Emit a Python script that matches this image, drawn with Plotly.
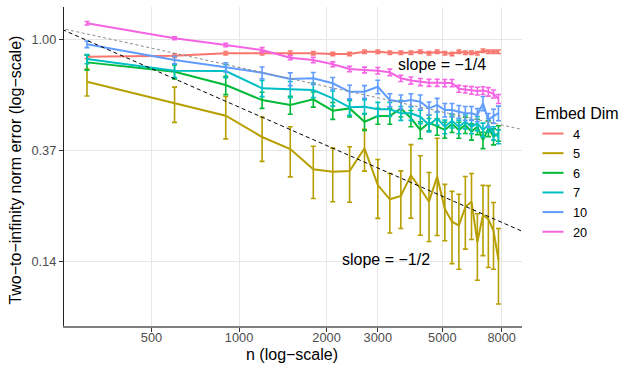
import numpy as np
import plotly.graph_objects as go

# ---------------- data ----------------
n_values = [300, 600, 900, 1200, 1500, 1800, 2100, 2400, 2700, 3000, 3300, 3600, 3900,
            4200, 4500, 4800, 5100, 5400, 5700, 6000, 6300, 6600, 6900, 7200, 7500, 7800]

embed_dims = ["4", "5", "6", "7", "10", "20"]

err_d4 = [0.858, 0.866, 0.885, 0.885, 0.889, 0.885, 0.879, 0.879, 0.897, 0.897, 0.889, 0.889, 0.889,
          0.897, 0.885, 0.897, 0.885, 0.879, 0.897, 0.889, 0.889, 0.885, 0.906, 0.897, 0.897, 0.897]
sd_d4 = [0.014] * 26

err_d5 = [0.6845, 0.563, 0.5036, 0.4156, 0.3729, 0.3105, 0.3038, 0.3057, 0.3753, 0.2694, 0.2368, 0.244, 0.2938,
          0.2611, 0.2318, 0.2909, 0.217, 0.1935, 0.187, 0.221, 0.2318, 0.161, 0.2055, 0.198, 0.178, 0.137]
sd_d5 = [0.083, 0.089, 0.095, 0.082, 0.083, 0.072, 0.072, 0.075, 0.07, 0.07, 0.062, 0.062, 0.094,
         0.09, 0.07, 0.12, 0.054, 0.061, 0.061, 0.07, 0.067, 0.047, 0.063, 0.07, 0.052, 0.045]

err_d6 = [0.815, 0.749, 0.664, 0.580, 0.555, 0.584, 0.527, 0.538, 0.477, 0.502, 0.502, 0.538, 0.492,
          0.443, 0.473, 0.456, 0.443, 0.467, 0.443, 0.463, 0.436, 0.456, 0.404, 0.449, 0.417, 0.430]
sd_d6 = [0.055, 0.047, 0.055, 0.042, 0.045, 0.04, 0.04, 0.04, 0.036, 0.036, 0.036, 0.04, 0.036,
         0.034, 0.034, 0.034, 0.032, 0.034, 0.032, 0.034, 0.032, 0.032, 0.03, 0.032, 0.03, 0.03]

err_d7 = [0.840, 0.756, 0.754, 0.645, 0.639, 0.635, 0.589, 0.543, 0.546, 0.534, 0.534, 0.515, 0.515,
          0.499, 0.463, 0.492, 0.456, 0.481, 0.456, 0.477, 0.456, 0.470, 0.443, 0.463, 0.430, 0.417]
sd_d7 = [0.035, 0.045, 0.045, 0.047, 0.047, 0.042, 0.04, 0.038, 0.036, 0.034, 0.034, 0.032, 0.032,
         0.03, 0.028, 0.03, 0.028, 0.03, 0.028, 0.03, 0.028, 0.03, 0.028, 0.028, 0.026, 0.026]

err_d10 = [0.959, 0.833, 0.780, 0.742, 0.701, 0.706, 0.675, 0.625, 0.625, 0.654, 0.580, 0.571, 0.580,
           0.571, 0.538, 0.555, 0.530, 0.530, 0.522, 0.515, 0.515, 0.507, 0.563, 0.484, 0.502, 0.515]
sd_d10 = [0.028, 0.028, 0.032, 0.04, 0.04, 0.038, 0.036, 0.038, 0.036, 0.04, 0.034, 0.036, 0.034,
          0.036, 0.032, 0.034, 0.032, 0.032, 0.03, 0.032, 0.032, 0.03, 0.036, 0.03, 0.032, 0.034]

err_d20 = [1.160, 1.013, 0.953, 0.911, 0.850, 0.833, 0.801, 0.768, 0.761, 0.756, 0.745, 0.706, 0.692,
           0.683, 0.678, 0.678, 0.676, 0.676, 0.642, 0.638, 0.633, 0.629, 0.632, 0.625, 0.613, 0.586]
sd_d20 = [0.018, 0.013, 0.015, 0.02, 0.016, 0.02, 0.018, 0.018, 0.02, 0.022, 0.022, 0.02, 0.022,
          0.022, 0.022, 0.022, 0.022, 0.022, 0.02, 0.02, 0.022, 0.022, 0.022, 0.024, 0.022, 0.024]

series_means = [err_d4, err_d5, err_d6, err_d7, err_d10, err_d20]
series_sds = [sd_d4, sd_d5, sd_d6, sd_d7, sd_d10, sd_d20]
colors = ["#F8766D", "#B79F00", "#00BA38", "#00BFC4", "#619CFF", "#F564E3"]

# reference lines: error = coef * n^slope
ref_slopes = [-0.25, -0.5]
ref_coefs = [4.382, 17.21]
ref_labels = ["slope = \u22121/4", "slope = \u22121/2"]
ref_label_n = [5000, 3211]
ref_label_err = [0.796, 0.1378]

x_tick_vals = [500, 1000, 2000, 3000, 5000, 8000]
x_tick_text = ["500", "1000", "2000", "3000", "5000", "8000"]
y_tick_vals = [0.1353, 0.3679, 1.0]
y_tick_text = ["0.14", "0.37", "1.00"]

x_range_log = [2.398, 3.973]
y_range_log = [-1.1222, 0.1282]

FONT = "Liberation Sans, Arial, Helvetica, sans-serif"

# ---------------- figure ----------------
fig = go.Figure()

for name, ys, sds, col in zip(embed_dims, series_means, series_sds, colors):
    fig.add_trace(go.Scatter(
        x=n_values, y=ys, mode="lines", name=name, showlegend=False,
        line=dict(color=col, width=2),
        error_y=dict(type="data", array=sds, visible=True, color=col,
                     thickness=1.6, width=2.5),
    ))

# reference dashed lines across the full panel
n_ends = [10 ** (x_range_log[0] - 0.05), 10 ** (x_range_log[1] + 0.05)]
ref_colors = ["#8C8C8C", "#000000"]
ref_dash = ["3px,2.5px", "4px,3px"]
for s, c, rc, dsh in zip(ref_slopes, ref_coefs, ref_colors, ref_dash):
    fig.add_trace(go.Scatter(
        x=n_ends, y=[c * nn ** s for nn in n_ends], mode="lines", showlegend=False,
        line=dict(color=rc, width=1, dash=dsh), hoverinfo="skip",
    ))

# legend entries (short ggplot-style key lines)
for name, col in zip(embed_dims, colors):
    fig.add_trace(go.Scatter(
        x=[None], y=[None], mode="markers", name=name, legendgroup=name,
        marker=dict(symbol="line-ew", size=15, color=col, line=dict(color=col, width=2)),
    ))

for txt, xn, ye in zip(ref_labels, ref_label_n, ref_label_err):
    fig.add_annotation(x=np.log10(xn), y=np.log10(ye), text=txt, showarrow=False,
                       font=dict(family=FONT, size=16, color="#000000"),
                       xanchor="center", yanchor="middle")

fig.add_annotation(xref="paper", yref="paper", x=0.498, y=-0.089, text="n (log\u2212scale)",
                   showarrow=False, font=dict(family=FONT, size=16, color="#000000"),
                   xanchor="center", yanchor="middle")
fig.add_annotation(xref="paper", yref="paper", x=-0.105, y=0.49,
                   text="Two\u2212to\u2212infinity norm error (log\u2212scale)", textangle=-90,
                   showarrow=False, font=dict(family=FONT, size=16, color="#000000"),
                   xanchor="center", yanchor="middle")

fig.update_layout(
    width=634, height=376,
    margin=dict(l=64, r=112, t=7, b=50, autoexpand=False),
    paper_bgcolor="white", plot_bgcolor="white",
    font=dict(family=FONT, size=13, color="#000000"),
    legend=dict(
        title=dict(text="Embed Dim", font=dict(family=FONT, size=16, color="#000000")),
        font=dict(family=FONT, size=12.8, color="#000000"),
        x=1.024, xanchor="left", y=0.715, yanchor="top",
        bgcolor="rgba(0,0,0,0)", tracegroupgap=0, itemwidth=30,
    ),
    xaxis=dict(
        type="log", range=x_range_log, tickvals=x_tick_vals, ticktext=x_tick_text,
        showgrid=True, gridcolor="#E6E6E6", gridwidth=1.2, zeroline=False,
        showline=True, linecolor="#7F7F7F", linewidth=1.5,
        ticks="outside", ticklen=4, tickcolor="#333333", tickwidth=1,
        ticklabelstandoff=-5,
        tickfont=dict(family=FONT, size=12.8, color="#4D4D4D"),
    ),
    yaxis=dict(
        type="log", range=y_range_log, tickvals=y_tick_vals, ticktext=y_tick_text,
        showgrid=True, gridcolor="#E6E6E6", gridwidth=1.2, zeroline=False,
        showline=True, linecolor="#222222", linewidth=1.2,
        ticks="outside", ticklen=4, tickcolor="#333333", tickwidth=1,
        tickfont=dict(family=FONT, size=12.8, color="#4D4D4D"),
    ),
)

fig.write_html("out.html", config={"displayModeBar": False},
               post_script="document.body.style.margin='0px';")
